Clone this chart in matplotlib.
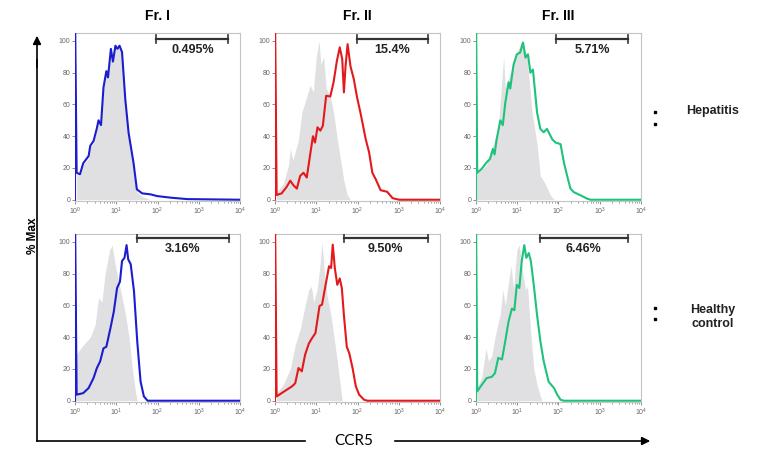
import numpy as np
import matplotlib
matplotlib.use("Agg")
import matplotlib.pyplot as plt

plt.rcParams['font.family'] = ['Liberation Sans', 'DejaVu Sans']

# ---------------- data (x in log10(CCR5), y in % Max) ----------------
fractions = ["Fr. I", "Fr. II", "Fr. III"]
groups = ["Hepatitis", "Healthy\ncontrol"]

# Hepatitis row
hep1_x = [0.04, 0.12, 0.20, 0.33, 0.37, 0.45, 0.53, 0.57, 0.63, 0.69, 0.76, 0.80, 0.87, 0.92, 0.98, 1.03, 1.08, 1.14, 1.22, 1.30, 1.42, 1.50, 1.63, 1.83, 1.99, 2.32, 2.72, 4.0]
hep1_y = [17, 16, 23, 27.5, 34, 37, 45, 50, 47, 70.6, 81, 77, 95, 87, 97, 95, 97, 93, 63, 42, 23, 6.5, 4, 3.4, 2.3, 1.3, 0.4, 0]
hep1_ctrl_x = [0.04, 0.12, 0.20, 0.33, 0.37, 0.45, 0.53, 0.57, 0.63, 0.69, 0.76, 0.80, 0.87, 0.92, 0.98, 1.03, 1.08, 1.14, 1.22, 1.30, 1.42, 1.50, 1.63, 1.83]
hep1_ctrl_y = [16, 15, 22, 26, 33, 36, 44, 49, 46, 69, 80, 76, 94, 86, 96, 94, 96, 92, 62, 41, 22, 5, 2, 0]

hep2_x = [0.04, 0.16, 0.28, 0.37, 0.45, 0.53, 0.61, 0.69, 0.77, 0.85, 0.92, 0.97, 1.03, 1.10, 1.16, 1.24, 1.34, 1.42, 1.50, 1.57, 1.63, 1.67, 1.71, 1.76, 1.83, 1.91, 1.99, 2.07, 2.20, 2.28, 2.36, 2.44, 2.56, 2.72, 2.85, 3.01, 4.0]
hep2_y = [3, 4, 8, 12, 9, 7, 15, 17, 14, 28, 40, 36, 45.6, 43.5, 46.6, 65.5, 65, 74, 87.4, 96, 88.5, 67.6, 84, 98, 84, 76, 64.4, 55, 38, 30, 17, 13, 6, 5, 1, 0, 0]
hep2_ctrl_x = [0.04, 0.20, 0.33, 0.37, 0.43, 0.49, 0.57, 0.65, 0.77, 0.85, 0.93, 1.00, 1.07, 1.11, 1.18, 1.24, 1.34, 1.42, 1.50, 1.59, 1.67, 1.75, 1.83]
hep2_ctrl_y = [5, 10, 22, 32, 25, 30, 38, 55, 65, 72, 68, 90, 100, 85, 90, 70, 65, 55, 40, 25, 12, 3, 0]

hep3_x = [0.03, 0.14, 0.26, 0.34, 0.41, 0.45, 0.50, 0.59, 0.65, 0.71, 0.79, 0.83, 0.91, 0.99, 1.07, 1.14, 1.20, 1.26, 1.32, 1.38, 1.48, 1.56, 1.64, 1.72, 1.85, 1.93, 2.05, 2.13, 2.21, 2.29, 2.37, 2.54, 2.70, 2.78, 4.0]
hep3_y = [17, 19.5, 23.6, 25.7, 32, 28.5, 38, 50, 47, 61, 74, 70, 85, 91.6, 92.7, 99, 89.5, 91.6, 80, 82, 55, 44.6, 42.5, 44.6, 38, 36, 35, 23.6, 15, 7, 4.8, 2.7, 0.6, 0, 0]
hep3_ctrl_x = [0.0, 0.14, 0.26, 0.34, 0.42, 0.54, 0.67, 0.71, 0.83, 0.95, 1.11, 1.24, 1.36, 1.48, 1.56, 1.68, 1.80, 1.89]
hep3_ctrl_y = [17, 19, 22, 30, 35, 45, 90, 70, 80, 90, 100, 90, 55, 35, 15, 10, 3, 0]

# Healthy control row
hc1_x = [0.04, 0.20, 0.33, 0.45, 0.53, 0.61, 0.69, 0.76, 0.86, 0.94, 1.02, 1.09, 1.14, 1.20, 1.25, 1.29, 1.35, 1.43, 1.51, 1.59, 1.67, 1.76, 4.0]
hc1_y = [3.8, 4.8, 8, 14.3, 20.6, 24.8, 33, 34, 45.8, 56, 71, 75, 88, 90, 98, 89, 86, 69, 37, 12, 2.7, 0, 0]
hc1_ctrl_x = [0.0, 0.08, 0.20, 0.37, 0.49, 0.57, 0.65, 0.73, 0.84, 0.90, 0.98, 1.06, 1.14, 1.22, 1.31, 1.39, 1.47, 1.51]
hc1_ctrl_y = [28, 31, 35, 40, 48, 65, 62, 80, 95, 98, 85, 75, 65, 55, 40, 20, 5, 0]

hc2_x = [0.04, 0.16, 0.29, 0.41, 0.49, 0.57, 0.65, 0.73, 0.82, 0.90, 0.98, 1.08, 1.14, 1.22, 1.31, 1.36, 1.40, 1.45, 1.51, 1.57, 1.62, 1.67, 1.74, 1.80, 1.88, 1.96, 2.04, 2.16, 2.24, 4.0]
hc2_y = [2.7, 4.8, 7, 9, 11, 20.6, 18.5, 29, 36, 39.5, 42.6, 59.7, 60.5, 72, 84.7, 83.6, 98.3, 83.6, 73, 77, 71, 54, 34, 30, 20.6, 9, 3.8, 0.6, 0, 0]
hc2_ctrl_x = [0.04, 0.20, 0.37, 0.49, 0.61, 0.73, 0.82, 0.88, 0.94, 1.02, 1.09, 1.14, 1.20, 1.27, 1.35, 1.43, 1.51, 1.59, 1.63]
hc2_ctrl_y = [5, 10, 20, 35, 45, 60, 70, 72, 62, 70, 85, 100, 80, 65, 55, 40, 25, 8, 0]

hc3_x = [0.03, 0.14, 0.26, 0.38, 0.46, 0.54, 0.63, 0.71, 0.79, 0.87, 0.93, 0.99, 1.05, 1.11, 1.17, 1.22, 1.28, 1.33, 1.40, 1.48, 1.56, 1.64, 1.76, 1.89, 1.97, 2.05, 2.13, 4.0]
hc3_y = [5.9, 10, 14.3, 15, 17.4, 27, 26, 37.6, 50, 58, 57, 73, 71, 88, 98, 90, 93, 88, 73, 54, 37.6, 25, 12, 8, 3.8, 0.6, 0, 0]
hc3_ctrl_x = [0.02, 0.14, 0.24, 0.30, 0.38, 0.46, 0.59, 0.65, 0.71, 0.79, 0.85, 0.91, 0.99, 1.05, 1.11, 1.20, 1.25, 1.32, 1.40, 1.48, 1.56, 1.60]
hc3_ctrl_y = [8, 15, 33, 25, 28, 40, 55, 70, 60, 75, 85, 70, 95, 98, 85, 70, 72, 45, 20, 10, 3, 0]

# gates (log10 bounds) and percentages
gate_lo = [[1.97, 1.98, 1.95], [1.50, 1.67, 1.54]]
gate_hi = [[3.72, 3.71, 3.69], [3.73, 3.70, 3.69]]
gate_pct = [["0.495%", "15.4%", "5.71%"], ["3.16%", "9.50%", "6.46%"]]

curves = [[(hep1_x, hep1_y), (hep2_x, hep2_y), (hep3_x, hep3_y)],
          [(hc1_x, hc1_y), (hc2_x, hc2_y), (hc3_x, hc3_y)]]
ctrls = [[(hep1_ctrl_x, hep1_ctrl_y), (hep2_ctrl_x, hep2_ctrl_y), (hep3_ctrl_x, hep3_ctrl_y)],
         [(hc1_ctrl_x, hc1_ctrl_y), (hc2_ctrl_x, hc2_ctrl_y), (hc3_ctrl_x, hc3_ctrl_y)]]

colors = ["#1c1cd0", "#e3191c", "#1fc27a"]
gray_fill = "#e0e0e2"
frame_col = "#c4c4c4"
tick_col = "#777777"

# ---------------- figure ----------------
W, H = 760, 474
fig = plt.figure(figsize=(W / 100, H / 100), dpi=100)

col_left = [75, 275, 476]
row_top = [33, 234]
pw, ph = 165, 168

for r in range(2):
    for c in range(3):
        ax = fig.add_axes([col_left[c] / W, 1 - (row_top[r] + ph) / H, pw / W, ph / H])
        cx, cy = ctrls[r][c]
        ax.fill_between(10 ** np.array(cx), cy, 0, color=gray_fill, lw=0, zorder=1)
        lx, ly = curves[r][c]
        xs = np.concatenate([[1.0, 1.0], 10 ** np.array(lx)])
        ys = np.concatenate([[0, 115], ly])
        ax.plot(xs, ys, color=colors[c], lw=1.5, zorder=3, solid_joinstyle='round')
        ax.set_xscale('log')
        ax.set_xlim(1, 1e4)
        ax.set_ylim(-0.8, 105)
        ax.set_yticks([0, 20, 40, 60, 80, 100])
        ax.tick_params(axis='both', which='major', labelsize=5, colors=tick_col,
                       length=2, width=0.6, pad=1.5)
        ax.tick_params(axis='both', which='minor', length=1.2, width=0.5, colors=tick_col)
        for lab in ax.get_xticklabels() + ax.get_yticklabels():
            lab.set_color("#666666")
        for sp in ax.spines.values():
            sp.set_color(frame_col)
            sp.set_linewidth(0.8)
        # gate
        g1, g2 = 10 ** gate_lo[r][c], 10 ** gate_hi[r][c]
        gy = 101.5 if r == 0 else 102.5
        ax.plot([g1, g2], [gy, gy], color="#333333", lw=1.6, zorder=4)
        ax.plot([g1, g1], [gy - 2.5, gy + 2.5], color="#333333", lw=1.2, zorder=4)
        ax.plot([g2, g2], [gy - 2.5, gy + 2.5], color="#333333", lw=1.2, zorder=4)
        gm = 10 ** ((gate_lo[r][c] + gate_hi[r][c]) / 2)
        ax.text(gm, gy - 3.3, gate_pct[r][c], ha='center', va='top',
                fontsize=9, fontweight='bold', color="#222222", zorder=5)
        if r == 0:
            ax.set_title(fractions[c], fontsize=10, fontweight='bold', pad=9)

# ---------------- overlay annotations ----------------
ov = fig.add_axes([0, 0, 1, 1])
ov.set_xlim(0, W)
ov.set_ylim(H, 0)
ov.axis('off')

ov.plot([37, 37], [441, 60], color='black', lw=1.2)
ov.annotate('', xy=(37, 33), xytext=(37, 70),
            arrowprops=dict(arrowstyle='-|>', color='black', lw=1.2, mutation_scale=12))
ov.plot([37, 305], [441, 441], color='black', lw=1.2)
ov.annotate('', xy=(653, 441), xytext=(392, 441),
            arrowprops=dict(arrowstyle='-|>', color='black', lw=1.2, mutation_scale=12))
ov.text(354, 441, "CCR5", ha='center', va='center', fontsize=11, family=['Lato', 'DejaVu Sans'])
ov.text(33, 236, "% Max", ha='center', va='center', rotation=90, fontsize=8.5, fontweight='bold')

ov.text(713, 111, groups[0], ha='center', va='center', fontsize=9, fontweight='bold', color="#222222")
ov.text(713, 317, groups[1], ha='center', va='center', fontsize=9, fontweight='bold',
        color="#222222", linespacing=1.2)
for yy in [112, 124, 308, 319]:
    ov.plot([655], [yy], marker='s', markersize=1.6, color='black', lw=0)

fig.savefig("out.png", dpi=100)
